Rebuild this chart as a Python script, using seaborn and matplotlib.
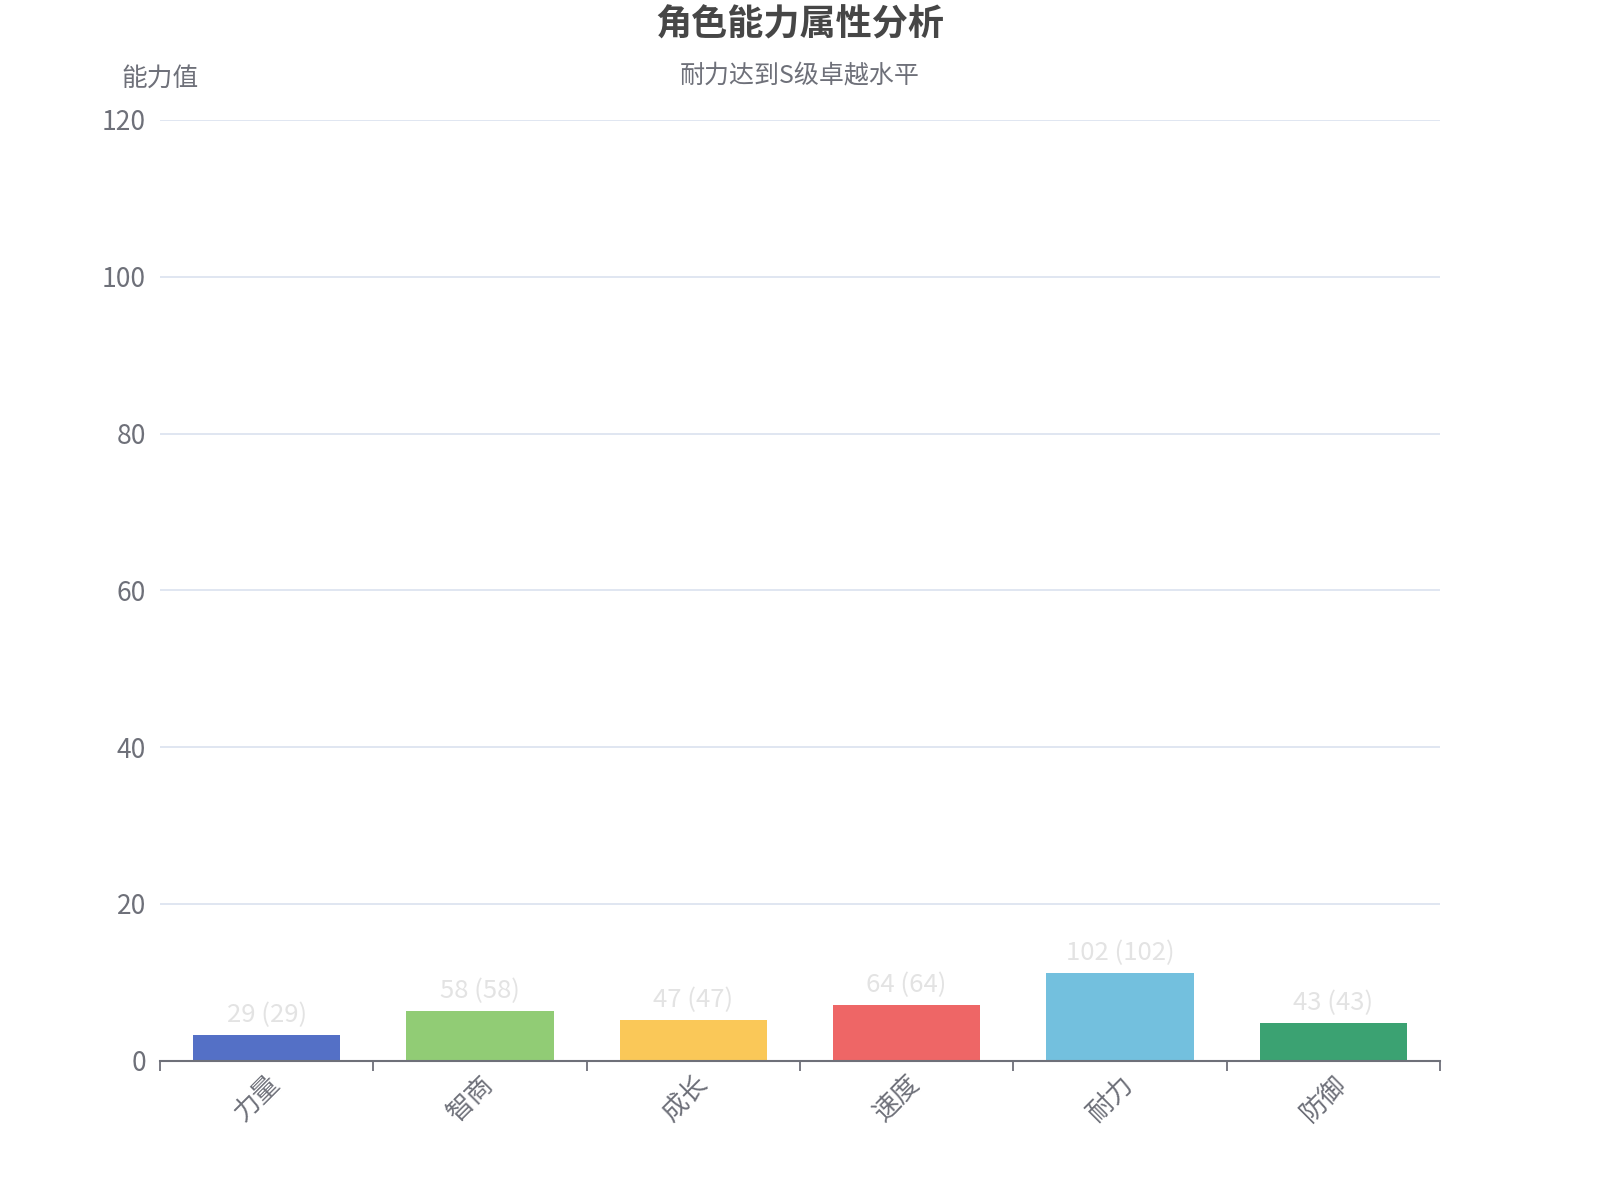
import matplotlib
matplotlib.use("Agg")
import matplotlib.pyplot as plt
import seaborn as sns
import pandas as pd
from matplotlib.ticker import FixedLocator

categories = ["力量", "智商", "成长", "速度", "耐力", "防御"]
values = [29, 58, 47, 64, 102, 43]
# bar heights as drawn in the reference (on the 0-120 axis)
bar_heights = [3.28, 6.4, 5.22, 7.07, 11.2, 4.8]
colors = ["#5470c6", "#91cc75", "#fac858", "#ee6666", "#73c0de", "#3ba272"]
y_ticks = [0, 20, 40, 60, 80, 100, 120]

title = "角色能力属性分析"
subtitle = "耐力达到S级卓越水平"
y_name = "能力值"

sns.set_theme(style="white")
plt.rcParams["font.family"] = ["Noto Sans CJK SC", "DejaVu Sans"]

df = pd.DataFrame({"cat": categories, "h": bar_heights, "v": values})

fig = plt.figure(figsize=(16, 12), dpi=100)
ax = fig.add_axes([0.1, 0.116, 0.8, 0.784])

sns.barplot(data=df, x="cat", y="h", hue="cat", palette=colors, order=categories,
            hue_order=categories, width=0.69, legend=False, ax=ax, saturation=1,
            linewidth=0)

for i, (h, v) in enumerate(zip(bar_heights, values)):
    ax.annotate(f"{v} ({v})", (i, h), xytext=(0, 5), textcoords="offset points",
                ha="center", va="bottom", fontsize=18.5, color="#e3e3e3")

ax.set_xlim(-0.5, len(categories) - 0.5)
ax.set_ylim(0, 120)
ax.yaxis.set_major_locator(FixedLocator(y_ticks))
ax.set_yticklabels([str(t) for t in y_ticks])
ax.grid(axis="y", color="#E0E6F1", linewidth=1.4)
ax.set_axisbelow(True)

# x axis: boundary ticks + centered labels
ax.xaxis.set_major_locator(FixedLocator([i - 0.5 for i in range(len(categories) + 1)]))
ax.xaxis.set_minor_locator(FixedLocator(list(range(len(categories)))))
ax.set_xticklabels([""] * (len(categories) + 1))
ax.set_xticklabels(categories, minor=True, rotation=45, ha="right",
                   rotation_mode="anchor", fontsize=19, color="#6E7079")
ax.tick_params(axis="x", which="major", length=7, width=1.3, color="#6E7079",
               direction="out", bottom=True)
ax.tick_params(axis="x", which="minor", length=0, pad=7)
ax.tick_params(axis="y", length=0, labelsize=19, labelcolor="#6E7079", pad=10)

for s in ["top", "right", "left"]:
    ax.spines[s].set_visible(False)
ax.spines["bottom"].set_color("#6E7079")
ax.spines["bottom"].set_linewidth(1.5)

ax.set_xlabel("")
ax.set_ylabel("")

fig.text(0.5, 0.979, title, ha="center", va="center", fontsize=26,
         fontweight="bold", color="#464646")
fig.text(0.5, 0.936, subtitle, ha="center", va="center", fontsize=18,
         color="#6E7079")
ax.annotate(y_name, (0, 1), xycoords="axes fraction", xytext=(0, 30),
            textcoords="offset points", ha="center", va="center", fontsize=18.5,
            color="#6E7079")

fig.savefig("out.png", dpi=100)
